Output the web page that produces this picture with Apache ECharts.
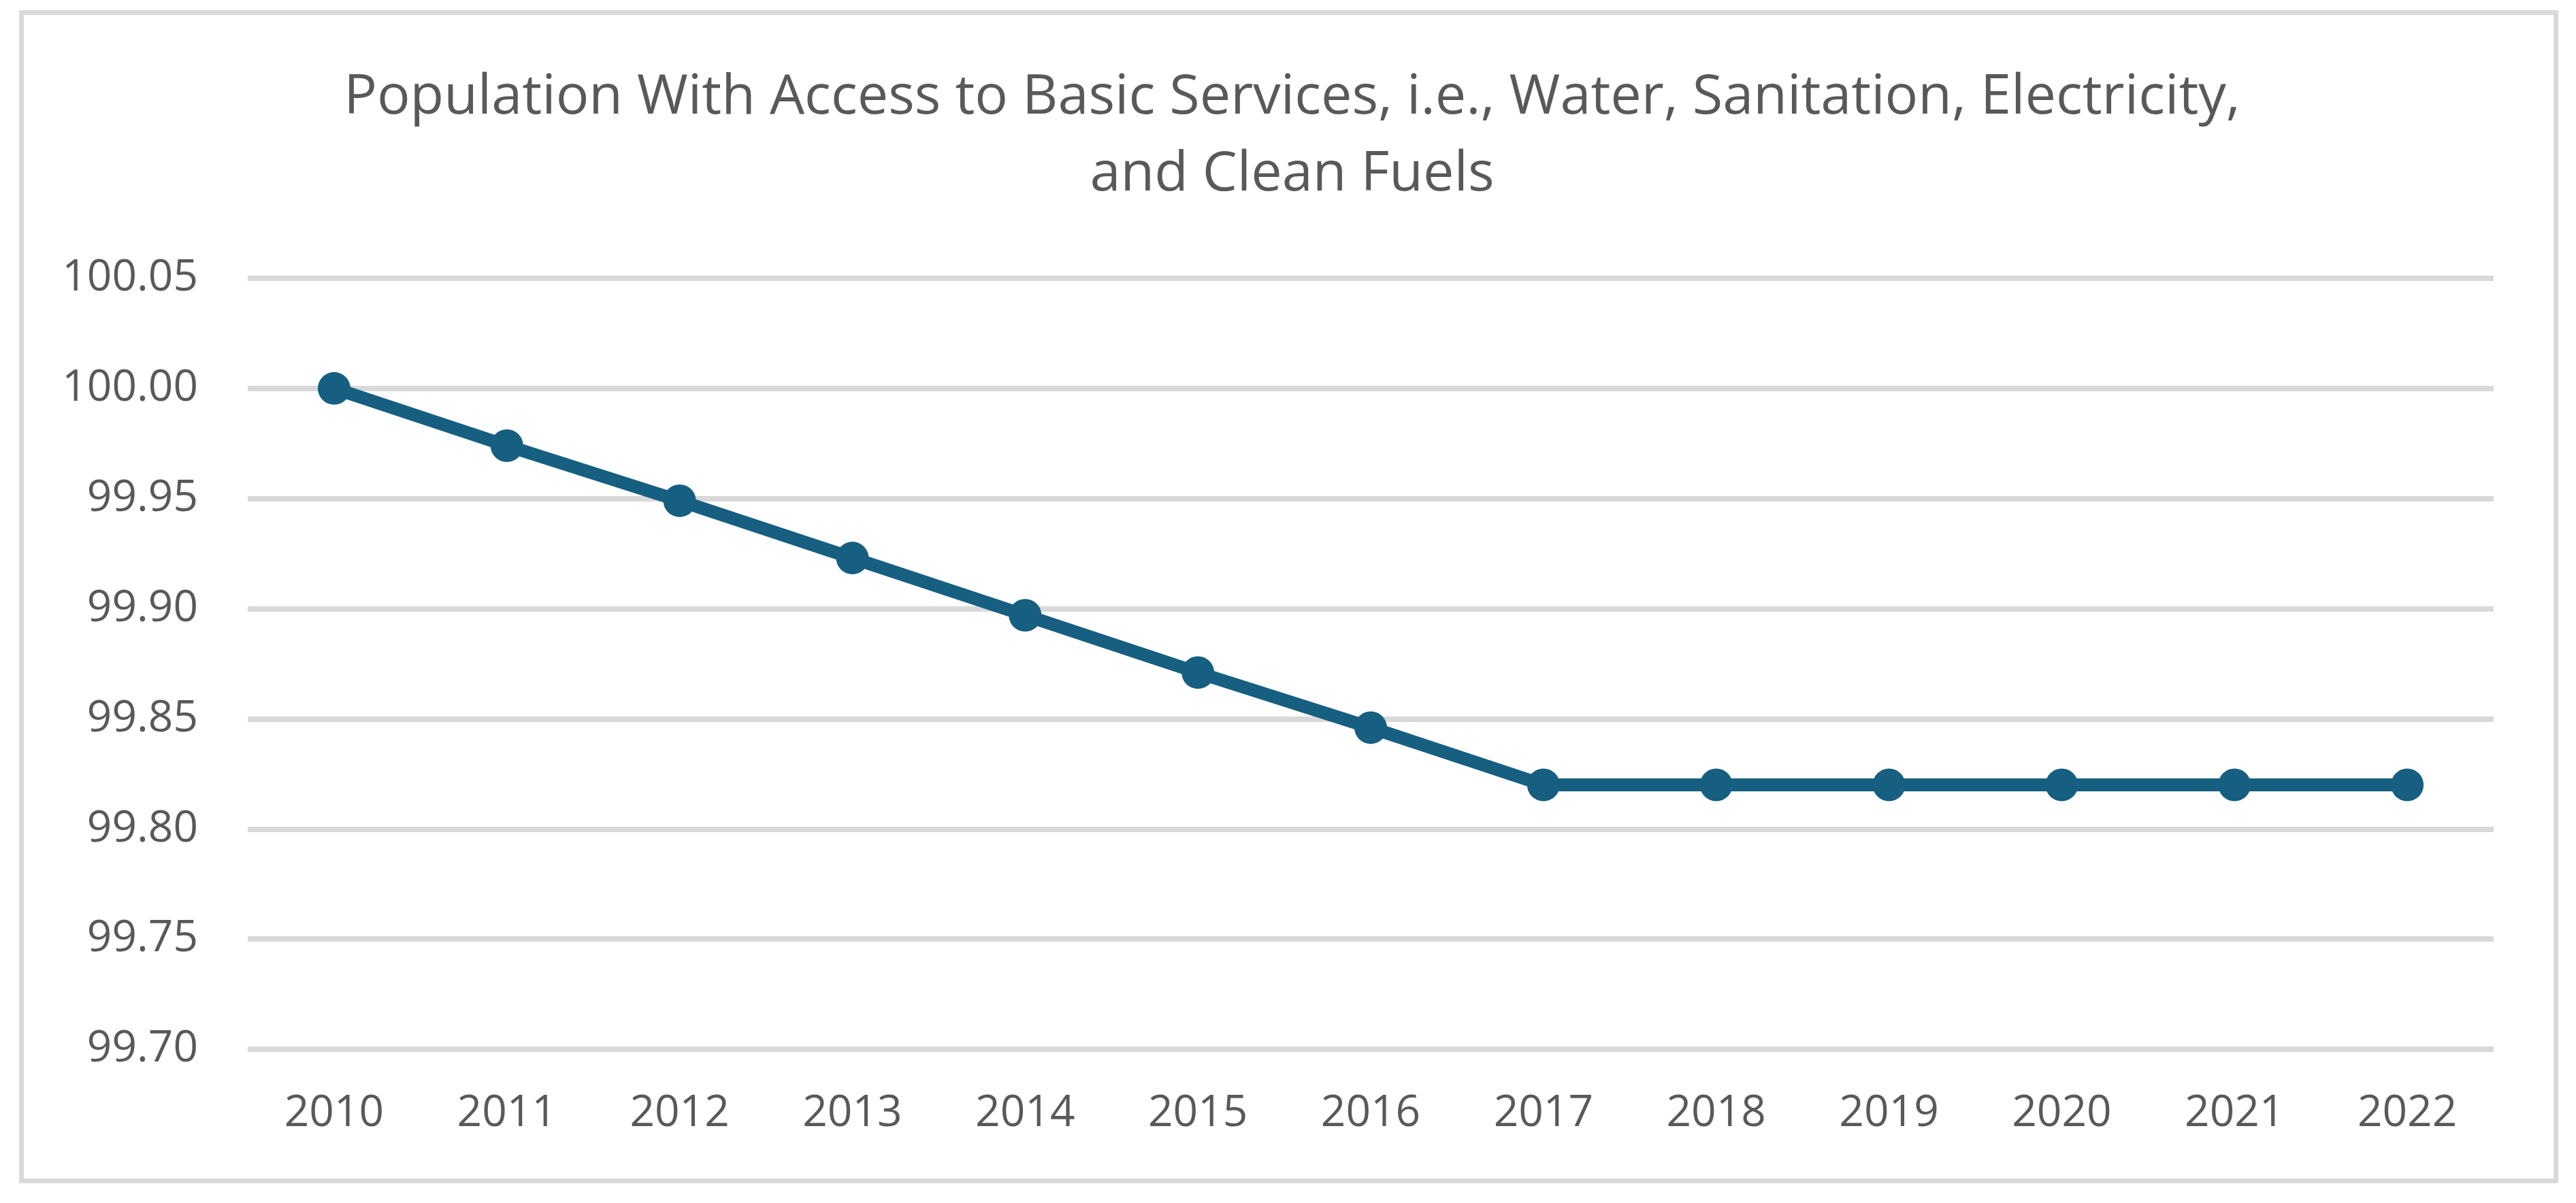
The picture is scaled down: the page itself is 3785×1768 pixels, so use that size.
<!DOCTYPE html>
<html>
<head>
<meta charset="utf-8">
<script src="https://cdn.jsdelivr.net/npm/echarts@6/dist/echarts.min.js"></script>
<style>
html,body{margin:0;padding:0;background:#fff;}
#c{width:3785px;height:1768px;}
</style>
</head>
<body>
<div id="c"></div>
<script>
const titleText = 'Population With Access to Basic Services, i.e., Water, Sanitation, Electricity,\nand Clean Fuels';
const years = ['2010','2011','2012','2013','2014','2015','2016','2017','2018','2019','2020','2021','2022'];
const values = [100.00, 99.974, 99.949, 99.923, 99.897, 99.871, 99.846, 99.82, 99.82, 99.82, 99.82, 99.82, 99.82];
const yMin = 99.70, yMax = 100.05, yStep = 0.05;

const chart = echarts.init(document.getElementById('c'), null, {renderer:'canvas'});
const font = 'Open Sans';
chart.setOption({
  animation: false,
  backgroundColor: '#ffffff',
  title: {
    text: titleText,
    left: 1893.5,
    textAlign: 'center',
    top: 82,
    textStyle: {fontFamily: font, fontSize: 81, fontWeight: 'normal', color: '#595959', lineHeight: 113}
  },
  graphic: [{
    type: 'rect', silent: true, z: -1,
    shape: {x: 31.5, y: 18.5, width: 3724, height: 1717},
    style: {fill: 'none', stroke: '#d9d9d9', lineWidth: 7}
  }],
  grid: {left: 364, right: 121, top: 409, bottom: 226, containLabel: false},
  xAxis: {
    type: 'category',
    data: years,
    boundaryGap: true,
    axisLine: {show: false},
    axisTick: {show: false},
    axisLabel: {fontFamily: font, fontSize: 64, color: '#595959', margin: 95, verticalAlign: 'middle'}
  },
  yAxis: {
    type: 'value',
    min: yMin, max: yMax, interval: yStep,
    axisLine: {show: false},
    axisTick: {show: false},
    axisLabel: {fontFamily: font, fontSize: 64, color: '#595959', margin: 73,
      formatter: v => Number(v).toFixed(2)},
    splitLine: {show: true, lineStyle: {color: '#d9d9d9', width: 8}}
  },
  series: [{
    type: 'line',
    data: values,
    symbol: 'circle',
    symbolSize: 48,
    lineStyle: {color: '#165f80', width: 19},
    itemStyle: {color: '#165f80'}
  }]
});
</script>
</body>
</html>
